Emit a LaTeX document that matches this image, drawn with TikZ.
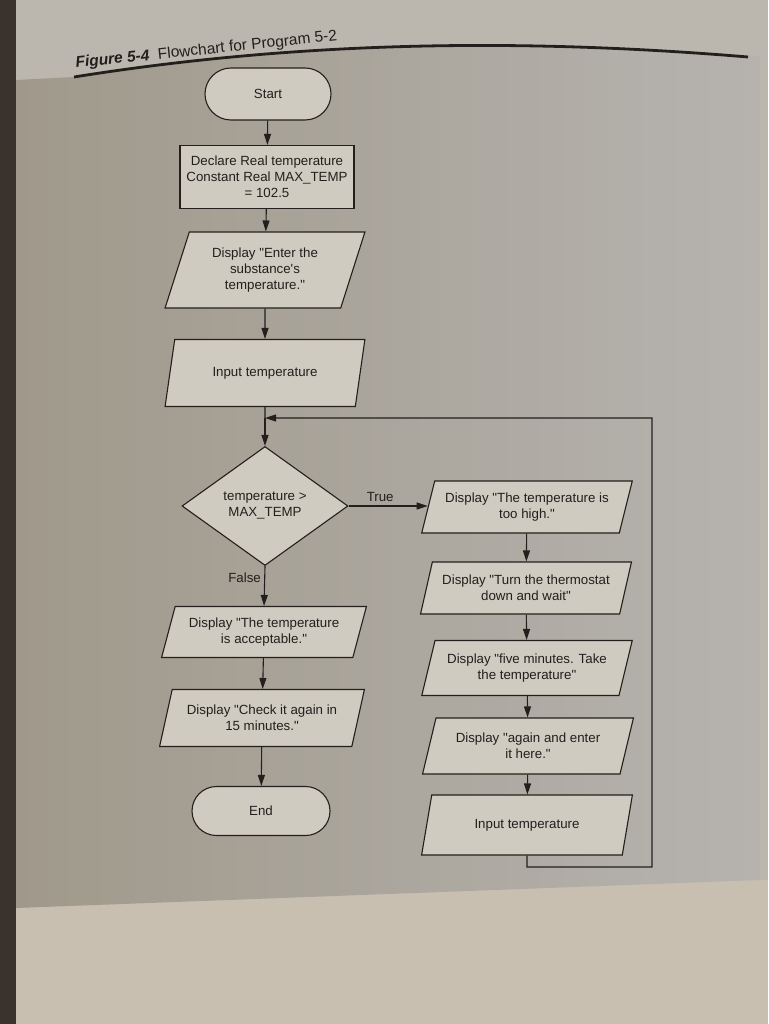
\documentclass[tikz,border=0pt]{standalone}
\usepackage{fontspec}
\setmainfont{Liberation Sans}[Ligatures=TeXOff]
\usetikzlibrary{shapes.geometric,shapes.misc,arrows.meta}
\definecolor{pagetop}{RGB}{188,183,174}
\definecolor{pagebot}{RGB}{200,191,177}
\definecolor{panelL}{RGB}{160,153,139}
\definecolor{panelR}{RGB}{182,179,175}
\definecolor{shapefill}{RGB}{208,203,192}
\definecolor{ink}{RGB}{34,31,29}
\definecolor{edge}{RGB}{58,50,44}
\tikzset{
  box/.style={draw=ink, fill=shapefill, line width=1.1pt, align=center, text=ink,
    font=\fontsize{13.3}{16}\selectfont, inner sep=2pt},
  term/.style={box, rounded rectangle},
  proc/.style={box, rectangle},
  io/.style={box, trapezium, trapezium left angle=70, trapezium right angle=110,
    trapezium stretches=true},
  dec/.style={box, diamond},
  arr/.style={draw=ink, line width=1.1pt, -{Triangle[length=11pt,width=7pt]}},
  ln/.style={draw=ink, line width=1.1pt},
  lbl/.style={text=ink, font=\fontsize{13.3}{16}\selectfont}
}
\begin{document}
\begin{tikzpicture}[x=1pt,y=-1pt]
\fill[pagetop] (0,0) rectangle (768,1024);
\useasboundingbox (0,0) rectangle (768,1024);
\fill[pagebot] (0,880) rectangle (768,1024);
% tinted figure panel
\coordinate (tl) at (74,77);
\coordinate (tr) at (760,56);
\shade[left color=panelL, right color=panelR]
  (16,80) -- (tl) .. controls (300,41) and (520,38) .. (tr) -- (760,880) -- (16,908) -- cycle;
\fill[edge] (0,0) rectangle (16,1024);

% title
\node[anchor=base west, rotate=6, text=ink, font=\fontsize{15.5}{18}\selectfont, inner sep=0pt] (title) at (76,68)
  {\textbf{\textit{Figure 5-4}}\ \ Flowchart for Program 5-2};
\coordinate (tle) at (748,57);
\draw[draw=ink, line width=2.8pt] (tl) .. controls (300,41) and (520,38) .. (tle);

% left column
\node[term, minimum width=130pt, minimum height=52pt] (start) at (268,94) {Start};
\node[proc, minimum width=174pt, minimum height=63pt, inner sep=1pt] (decl) at (267,177)
  {Declare Real temperature\\Constant Real MAX\_TEMP\\= 102.5};
\node[io, minimum width=200pt, minimum height=76pt] (enter) at (265,270)
  {Display "Enter the\\substance's\\temperature."};
\node[io, minimum width=200pt, minimum height=67pt] (in1) at (265,373) {Input temperature};
\coordinate (j) at (265,418);
\node[dec, minimum width=166pt, minimum height=119pt] (cond) at (265,506)
  {temperature >\\MAX\_TEMP};
\node[io, minimum width=205pt, minimum height=51pt] (l1) at (264,632)
  {Display "The temperature\\is acceptable."};
\node[io, minimum width=205pt, minimum height=57pt] (l2) at (262,718)
  {Display "Check it again in\\15 minutes."};
\node[term, minimum width=142pt, minimum height=49pt] (end) at (261,811) {End};

% right column
\node[io, minimum width=211pt, minimum height=52pt] (r1) at (527,507)
  {Display "The temperature is\\too high."};
\node[io, minimum width=211pt, minimum height=52pt] (r2) at (526,588)
  {Display "Turn the thermostat\\down and wait"};
\node[io, minimum width=211pt, minimum height=55pt] (r3) at (527,668)
  {Display "five minutes. Take\\the temperature"};
\node[io, minimum width=211pt, minimum height=56pt] (r4) at (528,746)
  {Display "again and enter\\it here."};
\node[io, minimum width=211pt, minimum height=60pt] (r5) at (527,825) {Input temperature};

\coordinate (lb) at (527,867);
\coordinate (rb) at (652,867);
\coordinate (rt) at (652,418);

% connectors
\draw[arr] (start) -- (decl);
\draw[arr] (decl) -- (enter);
\draw[arr] (enter) -- (in1);
\draw[ln] (in1.south) -- (j);
\draw[arr] (j) -- (cond.north);
\draw[arr] (cond.east) -- node[lbl, above, pos=0.4] (ttrue) {True} (cond.east -| r1.west);
\draw[arr] (cond.south) -- node[lbl, left, pos=0.3] (tfalse) {False} (l1.north);
\draw[arr] (l1) -- (l2);
\draw[arr] (l2) -- (end);
\draw[arr] (r1) -- (r2);
\draw[arr] (r2) -- (r3);
\draw[arr] (r3) -- (r4);
\draw[arr] (r4) -- (r5);
\draw[arr] (r5.south) -- (lb) -- (rb) -- (rt) -- (j);
\end{tikzpicture}
\end{document}
